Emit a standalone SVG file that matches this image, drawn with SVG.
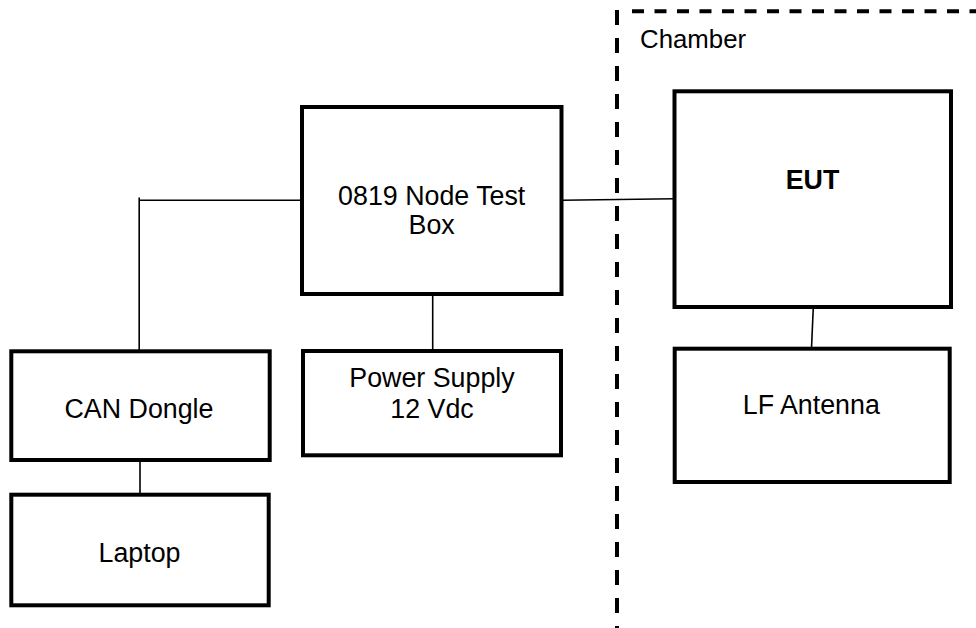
<svg xmlns="http://www.w3.org/2000/svg" width="976" height="628" viewBox="0 0 976 628">
<style>
.box{fill:#fff;stroke:#000;stroke-width:4}
.lbl{font-family:"Liberation Sans",Arial,sans-serif;font-size:26.8px;fill:#000;text-anchor:middle}
.con{stroke:#000;stroke-width:1.6;fill:none}
.dash{stroke:#000;stroke-width:4;fill:none}
</style>
<rect width="976" height="628" fill="#fff"/>
<g id="chamber">
<line class="dash" x1="617" y1="10" x2="617" y2="628" stroke-dasharray="15 13"/>
<line class="dash" x1="632" y1="11.3" x2="976" y2="11.3" stroke-dasharray="12 10.5"/>
<text x="640" y="48" font-family="Liberation Sans, Arial, sans-serif" font-size="25.8" fill="#000">Chamber</text>
</g>
<g id="connectors">
<polyline class="con" points="302,200.2 139.2,200.2"/>
<line class="con" x1="139.2" y1="197.5" x2="139.2" y2="351"/>
<line class="con" x1="140" y1="460" x2="140" y2="494.5"/>
<line class="con" x1="432.7" y1="294" x2="432.7" y2="351"/>
<line class="con" x1="562" y1="200.3" x2="674.5" y2="198.8"/>
<line class="con" x1="813.3" y1="307" x2="811.5" y2="348.5"/>
</g>
<g id="node-test-box">
<rect class="box" x="302" y="107" width="259.5" height="187"/>
<text class="lbl" x="431.7" y="205">0819 Node Test</text>
<text class="lbl" x="431.7" y="234">Box</text>
</g>
<g id="eut">
<rect class="box" x="674.5" y="91.3" width="276.5" height="215.7"/>
<text class="lbl" x="812.5" y="189" font-weight="bold">EUT</text>
</g>
<g id="lf-antenna">
<rect class="box" x="674.7" y="348.7" width="275" height="133.3"/>
<text class="lbl" x="811.3" y="414.3">LF Antenna</text>
</g>
<g id="power-supply">
<rect class="box" x="303" y="351" width="258" height="104.3"/>
<text class="lbl" x="432" y="386.7">Power Supply</text>
<text class="lbl" x="432" y="418.3">12 Vdc</text>
</g>
<g id="can-dongle">
<rect class="box" x="11.3" y="351.3" width="258.4" height="108.7"/>
<text class="lbl" x="139" y="418.3">CAN Dongle</text>
</g>
<g id="laptop">
<rect class="box" x="11.3" y="494.7" width="257.4" height="110.6"/>
<text class="lbl" x="139.5" y="561.7">Laptop</text>
</g>
</svg>
